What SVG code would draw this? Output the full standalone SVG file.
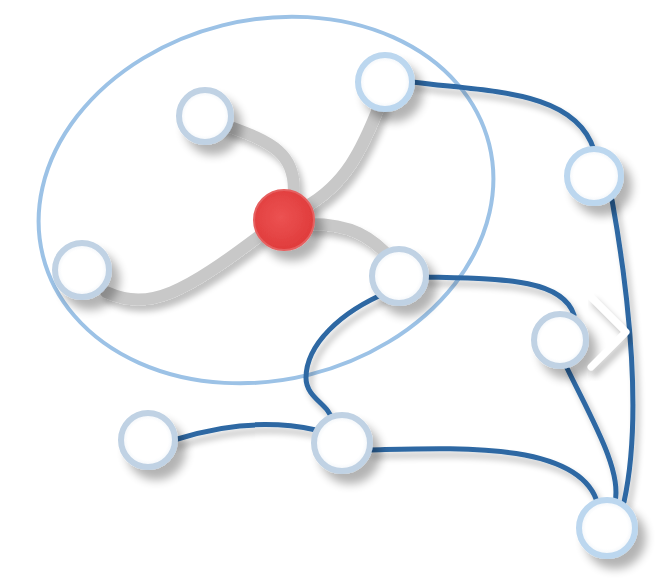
<svg xmlns="http://www.w3.org/2000/svg" width="656" height="580" viewBox="0 0 656 580">
<defs>
<filter id="sh" x="-50%" y="-50%" width="220%" height="220%">
<feGaussianBlur in="SourceAlpha" stdDeviation="5"/>
<feOffset dx="8" dy="10" result="b"/>
<feComponentTransfer><feFuncA type="linear" slope="0.3"/></feComponentTransfer>
<feMerge><feMergeNode/><feMergeNode in="SourceGraphic"/></feMerge>
</filter>
<filter id="lsh" x="-20%" y="-20%" width="140%" height="140%">
<feGaussianBlur in="SourceAlpha" stdDeviation="3"/>
<feOffset dx="4" dy="6" result="b"/>
<feComponentTransfer><feFuncA type="linear" slope="0.25"/></feComponentTransfer>
<feMerge><feMergeNode/><feMergeNode in="SourceGraphic"/></feMerge>
</filter>
<radialGradient id="wg" cx="50%" cy="50%" r="50%">
<stop offset="0.75" stop-color="#ffffff"/>
<stop offset="1" stop-color="#eef3f8"/>
</radialGradient>
<radialGradient id="rg" cx="45%" cy="45%" r="55%">
<stop offset="0" stop-color="#ec5252"/>
<stop offset="1" stop-color="#e03c3c"/>
</radialGradient>
</defs>
<style>
.gray{fill:none;stroke:#c8c8c8;stroke-width:12;stroke-linecap:round}
.blue{fill:none;stroke:#2d68a3;stroke-width:5;stroke-linecap:round}
.node{fill:url(#wg);stroke:#bcd7ef;stroke-width:6}
.inner{fill:url(#wg);stroke:#c0d2e4;stroke-width:6}
</style>
<rect width="656" height="580" fill="#ffffff"/>
<ellipse cx="266" cy="200" rx="230" ry="180" transform="rotate(-14 266 200)" fill="none" stroke="#9cc2e6" stroke-width="4"/>
<g id="connectors">
<g filter="url(#lsh)">
<path class="gray" d="M 222 124 C 265 140 300 150 293 200"/>
<path class="gray" d="M 380 104 C 362 150 345 185 305 207"/>
<path class="gray" d="M 310 224 C 350 224 372 236 394 262"/>
<path class="gray" d="M 106 292 C 150 312 185 292 262 234"/>
</g>
<g filter="url(#lsh)">
<path class="blue" d="M 412 82 C 490 92 575 90 594 150"/>
<path class="blue" d="M 612 200 C 630 300 642 420 624 502"/>
<path class="blue" d="M 424 277 C 500 279 562 278 574 315"/>
<path class="blue" d="M 566 366 C 592 420 622 470 615 502"/>
<path class="blue" d="M 388 292 C 340 312 306 345 306 378 C 306 398 330 405 332 420"/>
<path class="blue" d="M 174 440 C 220 425 270 420 316 430"/>
<path class="blue" d="M 370 450 C 450 448 582 440 598 505"/>
</g>
</g>
<g id="n1"><circle class="inner" cx="205" cy="116" r="26" filter="url(#sh)"/></g>
<g id="n2"><circle class="node" cx="385" cy="82" r="27" filter="url(#sh)"/></g>
<g id="red"><circle cx="284" cy="220" r="30" fill="url(#rg)" stroke="#e66060" stroke-width="2" filter="url(#sh)"/></g>
<g id="n3"><circle class="inner" cx="82" cy="270" r="27" filter="url(#sh)"/></g>
<g id="n4"><circle class="inner" cx="399" cy="276" r="27" filter="url(#sh)"/></g>
<g id="n5"><circle class="node" cx="594" cy="176" r="27" filter="url(#sh)"/></g>
<g id="n6"><circle class="inner" cx="560" cy="340" r="26" filter="url(#sh)"/></g>
<g id="n7"><circle class="inner" cx="148" cy="440" r="27" filter="url(#sh)"/></g>
<g id="n8"><circle class="inner" cx="342" cy="443" r="28" filter="url(#sh)"/></g>
<g id="n9"><circle class="node" cx="607" cy="528" r="28" filter="url(#sh)"/></g>
<g id="chevron" filter="url(#lsh)"><polyline points="591,297 626,332 591,367" fill="none" stroke="#ffffff" stroke-width="7" stroke-linecap="round" stroke-linejoin="round"/></g>
</svg>
